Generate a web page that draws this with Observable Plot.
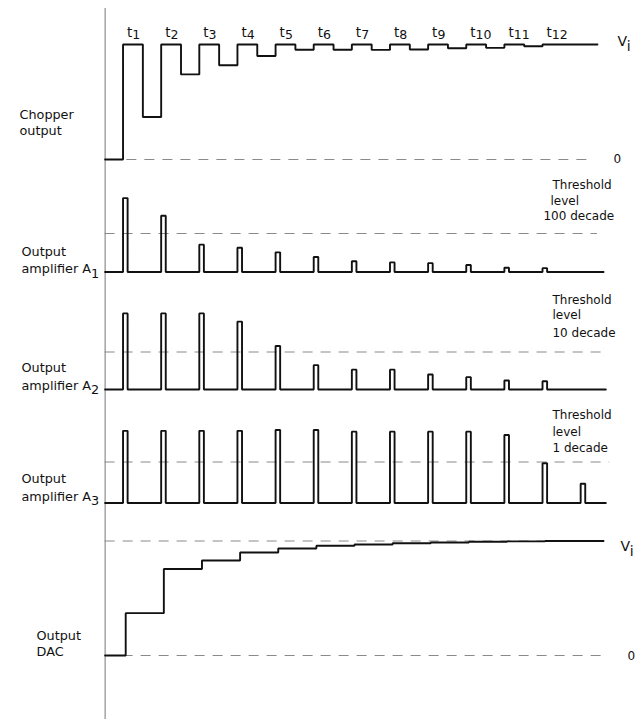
<!DOCTYPE html>
<html>
<head>
<meta charset="utf-8">
<script src="https://cdn.jsdelivr.net/npm/d3@7"></script>
<script src="https://cdn.jsdelivr.net/npm/@observablehq/plot@0.6"></script>
<style>
  html, body { margin: 0; padding: 0; background: #fff; }
  #chart svg { display: block; }
</style>
</head>
<body>
<div id="chart"></div>
<script>
// ---- data (0 = zero level, 1 = Vi / threshold level) ----
const tLabels = ["t_1","t_2","t_3","t_4","t_5","t_6","t_7","t_8","t_9","t_10","t_11","t_12"];
const sampleTimes = [1,2,3,4,5,6,7,8,9,10,11,12];
// chopper low level between t_k and t_k+1 (fraction of Vi)
const chopperLow = [0.37, 0.74, 0.82, 0.90, 0.955, 0.955, 0.953, 0.957, 0.968, 0.971, 0.985];
// amplifier pulse heights (threshold = 1)
const ampA1 = [1.92, 1.46, 0.71, 0.63, 0.51, 0.39, 0.28, 0.25, 0.23, 0.18, 0.11, 0.10];
const ampA2 = [2.03, 2.03, 2.03, 1.81, 1.16, 0.65, 0.53, 0.53, 0.40, 0.33, 0.24, 0.22];
const ampA3 = [1.76, 1.76, 1.76, 1.76, 1.78, 1.78, 1.74, 1.74, 1.74, 1.74, 1.66, 0.97, 0.47];
// DAC output after each step (fraction of Vi)
const dacOut = [0.37, 0.755, 0.83, 0.90, 0.935, 0.958, 0.97, 0.98, 0.987, 0.993, 0.997, 1.0];
const thresholdA1 = ["Threshold", "level", "100 decade"];
const thresholdA2 = ["Threshold", "level", "10 decade"];
const thresholdA3 = ["Threshold", "level", "1 decade"];

// ---- layout constants ----
const T0 = 0.53;          // left axis / trace start
const W = 643;
const FONT = "DejaVu Sans";
const INK = "#111";
const TXT = "#111";
const DASH = "#8a8a8a";

function xScale() { return {domain: [0, 14], range: [84.4, 618.3], axis: null}; }

function chopperSeries() {
  const pts = [{t: T0, v: 0}];
  sampleTimes.forEach((k, i) => {
    pts.push({t: k, v: 1});
    if (i < chopperLow.length) pts.push({t: k + 0.52, v: chopperLow[i]});
  });
  pts.push({t: 13.44, v: 1});
  return pts;
}
function pulseSeries(h, end) {
  const pts = [{t: T0, v: 0}];
  h.forEach((v, i) => { pts.push({t: i + 1, v}); pts.push({t: i + 1.12, v: 0}); });
  pts.push({t: end, v: 0});
  return pts;
}
function dacSeries() {
  const pts = [{t: T0, v: 0}];
  dacOut.forEach((v, i) => pts.push({t: sampleTimes[i] + 0.07, v}));
  pts.push({t: 13.6, v: dacOut[dacOut.length - 1]});
  return pts;
}

const axisRule = () => Plot.ruleX([T0], {stroke: "#777", strokeWidth: 1});
const stepLine = (data) => Plot.line(data, {x: "t", y: "v", curve: "step-after", stroke: INK, strokeWidth: 1.9, strokeLinejoin: "miter"});
const dashed = (v, t1, t2) => Plot.ruleY([v], {x1: t1, x2: t2, stroke: DASH, strokeWidth: 1.2, strokeDasharray: "10,8"});
const leftLabel = (txt, v, dy, dx) => Plot.text([txt], {frameAnchor: "left", y: () => v, dx, dy, text: d => d, textAnchor: "start", lineAnchor: "middle", fontSize: 12.8, fill: TXT});
const thresholdLabels = (lines, xs, dys) => lines.map((s, i) =>
  Plot.text([s], {x: () => xs[i], y: () => 1, dy: dys[i], text: d => d, textAnchor: "start", lineAnchor: "middle", fontSize: 12, fill: TXT}));

function panel(height, marginTop, yRange, marks) {
  return Plot.plot({
    width: W, height, marginTop, marginBottom: 0, marginLeft: 0, marginRight: 0,
    x: xScale(),
    y: {domain: [0, 1], range: yRange, axis: null},
    style: {fontFamily: FONT, fontSize: "13px", background: "#fff", overflow: "visible"},
    marks
  });
}

// subscript helper: "A_1" -> A + lowered 1
function subs(svg) {
  d3.select(svg).selectAll("text").each(function () {
    const s = this.textContent;
    const i = s.indexOf("_");
    if (i < 0 || this.querySelector("tspan")) return;
    const isT = s[0] === "t";
    this.textContent = s.slice(0, i);
    d3.select(this).append("tspan")
      .attr("dy", isT ? "0.22em" : "0.36em")
      .attr("font-size", isT ? "12.5px" : null)
      .text(s.slice(i + 1));
  });
  return svg;
}

const tx = px => 1 + (px - 122.5) / 38.14; // pixel -> time helper for label placement

const p1 = panel(175, 8, [159, 44], [
  axisRule(),
  dashed(0, 1.1, 13.34),
  stepLine(chopperSeries()),
  Plot.text(tLabels, {x: (d, i) => sampleTimes[i], y: () => 1, dx: 4, dy: -8, text: d => d, textAnchor: "start", lineAnchor: "bottom", fontSize: 13.5, fill: TXT}),
  Plot.text(["V_i"], {x: () => tx(617), y: () => 1, dy: 1, text: d => d, textAnchor: "start", lineAnchor: "bottom", fontSize: 14, fill: TXT}),
  Plot.text(["0"], {x: () => tx(613), y: () => 0, text: d => d, textAnchor: "start", lineAnchor: "middle", fontSize: 12, fill: TXT}),
  leftLabel("Chopper", 0, -45, 19),
  leftLabel("output", 0, -29, 19)
]);

const p2 = panel(115, 0, [96.5, 58], [
  axisRule(),
  dashed(1, T0, 13.44),
  stepLine(pulseSeries(ampA1, 13.6)),
  ...thresholdLabels(thresholdA1, [tx(552), tx(550), tx(543)], [-48, -32.3, -17]),
  leftLabel("Output", 0, -19.8, 21),
  leftLabel("amplifier A_1", 0, -3.2, 21)
]);

const p3 = panel(115, 0, [99, 61.5], [
  axisRule(),
  dashed(1, T0, 13.68),
  stepLine(pulseSeries(ampA2, 13.66)),
  ...thresholdLabels(thresholdA2, [tx(552), tx(552), tx(552)], [-52.2, -36.5, -18.8]),
  leftLabel("Output", 0, -21.7, 21),
  leftLabel("amplifier A_2", 0, -4, 21)
]);

const p4 = panel(115, 0, [97.5, 56.5], [
  axisRule(),
  dashed(1, T0, 13.76),
  stepLine(pulseSeries(ampA3, 13.66)),
  ...thresholdLabels(thresholdA3, [tx(552), tx(552), tx(552)], [-46.5, -29.8, -14.2]),
  leftLabel("Output", 0, -24.2, 21),
  leftLabel("amplifier A_3", 0, -6.5, 21)
]);

const p5 = panel(199, 0, [135, 20.5], [
  axisRule(),
  dashed(1, T0, 13.6),
  dashed(0, T0, 13.6),
  stepLine(dacSeries()),
  Plot.text(["V_i"], {x: () => tx(620), y: () => 1, dy: 10, text: d => d, textAnchor: "start", lineAnchor: "bottom", fontSize: 14, fill: TXT}),
  Plot.text(["0"], {x: () => tx(627), y: () => 0, dy: 1, text: d => d, textAnchor: "start", lineAnchor: "middle", fontSize: 12, fill: TXT}),
  leftLabel("Output", 0, -19.3, 36),
  leftLabel("DAC", 0, -3.3, 36)
]);

const root = document.getElementById("chart");
[p1, p2, p3, p4, p5].forEach(p => root.appendChild(subs(p)));
</script>
</body>
</html>
